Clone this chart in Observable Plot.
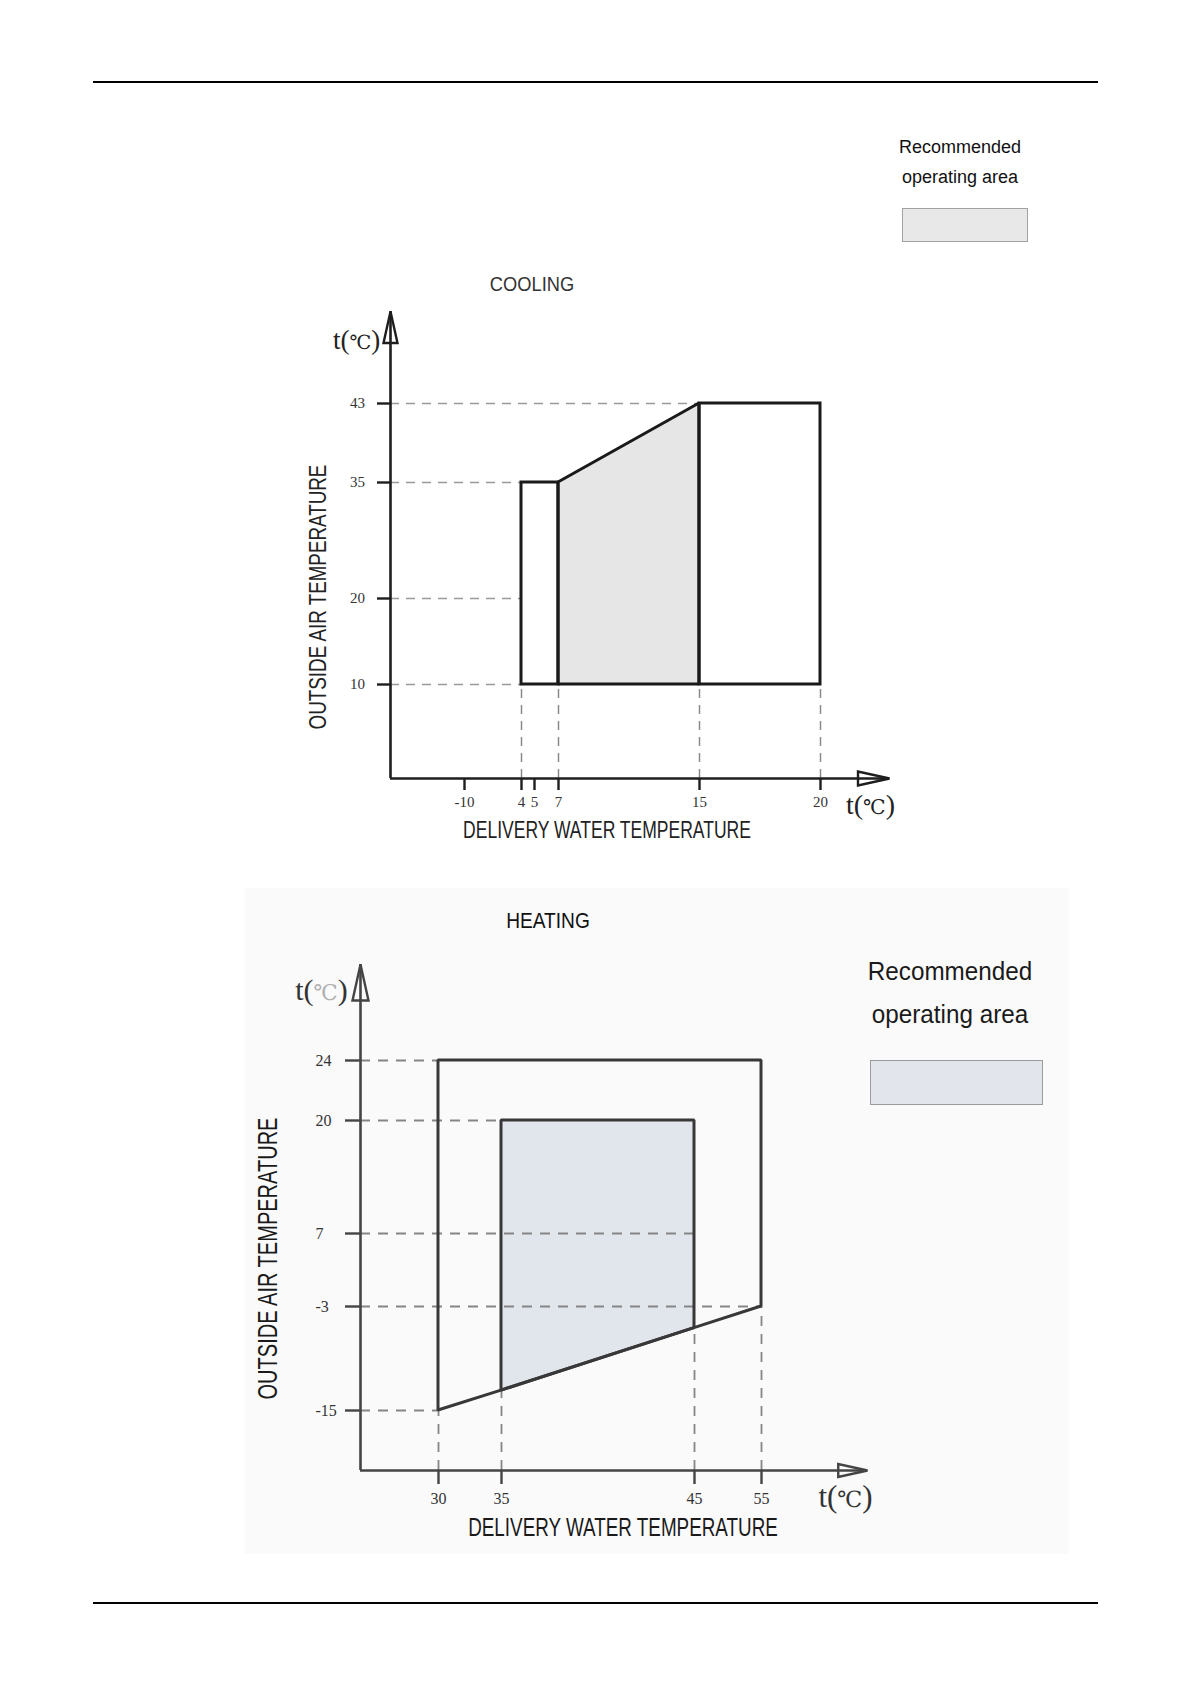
<!DOCTYPE html>
<html>
<head>
<meta charset="utf-8">
<script src="https://cdn.jsdelivr.net/npm/d3@7"></script>
<script src="https://cdn.jsdelivr.net/npm/@observablehq/plot@0.6"></script>
<style>
  body { margin: 0; background: #fff; }
  #page { position: relative; width: 1190px; height: 1684px; overflow: hidden; font-family: "Liberation Sans", Arial, sans-serif; }
  .abs { position: absolute; }
  .ctr { transform: translate(-50%, -50%); white-space: nowrap; }
</style>
</head>
<body>
<div id="page">
  <div class="abs" style="left:93px;top:81px;width:1005px;height:2px;background:#000"></div>
  <div class="abs" style="left:93px;top:1602px;width:1005px;height:2px;background:#000"></div>

  <div class="abs" style="left:245px;top:888px;width:824px;height:666px;background:#fafafa"></div>

  <!-- cooling legend -->
  <div class="abs ctr" style="left:960px;top:147px;font-size:18px;color:#111">Recommended</div>
  <div class="abs ctr" style="left:960px;top:177px;font-size:18px;color:#111">operating area</div>
  <div class="abs" style="left:902px;top:208px;width:124px;height:32px;background:#e8e8e8;border:1.5px solid #a2a2a2"></div>

  <!-- heating legend -->
  <div class="abs ctr" style="left:950px;top:971px;font-size:25px;color:#1a1a1a;transform:translate(-50%,-50%) scaleX(0.97)">Recommended</div>
  <div class="abs ctr" style="left:950px;top:1014px;font-size:25px;color:#1a1a1a;transform:translate(-50%,-50%) scaleX(0.97)">operating area</div>
  <div class="abs" style="left:870px;top:1060px;width:171px;height:43px;background:#e2e5eb;border:1.5px solid #9c9c9c"></div>

  <div class="abs" style="left:532px;top:284px;font-size:21px;color:#333;white-space:nowrap;transform:translate(-50%,-50%) scaleX(0.87)">COOLING</div>
  <div class="abs" style="left:548px;top:921px;font-size:22px;color:#111;white-space:nowrap;transform:translate(-50%,-50%) scaleX(0.87)">HEATING</div>

  <div id="cool" class="abs" style="left:250px;top:295px"></div>
  <div id="heat" class="abs" style="left:220px;top:940px"></div>
</div>
<script>
// ---------------- DATA ----------------
// Cooling
const coolXTicks = [-10, 4, 5, 7, 15, 20];
const coolYTicks = [10, 20, 35, 43];
const coolLimitZones = [
  {x1: 4, x2: 7, y1: 10, y2: 35},
  {x1: 15, x2: 20, y1: 10, y2: 43}
];
const coolRecommended = [
  {x: 7, low: 10, high: 35},
  {x: 15, low: 10, high: 43}
];
const coolHGuides = [{y: 43, to: 15}, {y: 35, to: 4}, {y: 20, to: 4}, {y: 10, to: 4}];
const coolVGuides = [{x: 4, from: 10}, {x: 7, from: 10}, {x: 15, from: 10}, {x: 20, from: 10}];

// Heating
const heatXTicks = [30, 35, 45, 55];
const heatYTicks = [-15, -3, 7, 20, 24];
const heatLimit = [
  {x: 30, low: -15, high: 24},
  {x: 35, low: -12.7, high: 24},
  {x: 45, low: -5.5, high: 24},
  {x: 55, low: -3, high: 24}
];
const heatRecommended = [
  {x: 35, low: -12.7, high: 20},
  {x: 45, low: -5.5, high: 20}
];
const heatHGuides = [{y: 24, to: 30}, {y: 20, to: 35}, {y: 7, to: 45}, {y: -3, to: 55}, {y: -15, to: 30}];
const heatVGuides = [{x: 30, from: -15}, {x: 35, from: -12.7}, {x: 45, from: -5.5}, {x: 55, from: -3}];

const yTitle = "OUTSIDE AIR TEMPERATURE";
const xTitle = "DELIVERY WATER TEMPERATURE";
const unitLabel = "t(\u2103)";

// -------------- schematic (piecewise) scale settings --------------
const arrowRight = {draw(ctx, size) { const r = Math.sqrt(size / Math.PI); ctx.moveTo(0, 0); ctx.lineTo(-4.5 * r, -r); ctx.lineTo(-4.5 * r, r); ctx.closePath(); }};
const arrowUp = {draw(ctx, size) { const r = Math.sqrt(size / Math.PI); ctx.moveTo(0, 0); ctx.lineTo(-r, 4.5 * r); ctx.lineTo(r, 4.5 * r); ctx.closePath(); }};

function chart(o) {
  const xDom = [o.xStart, ...o.xTicks, o.xEnd];
  const yDom = [o.yStart, ...o.yTicks, o.yEnd];
  const sans = "'Liberation Sans', Arial, sans-serif";
  const serif = "'Liberation Serif', 'DejaVu Serif', serif";
  const centered = {textAnchor: "middle", lineAnchor: "middle"};
  const limitMark = o.limitRects
    ? Plot.rect(o.limitRects, {x1: "x1", x2: "x2", y1: "y1", y2: "y2", fill: "none", stroke: o.ink, strokeWidth: 3, strokeLinejoin: "miter"})
    : Plot.areaY(o.limitArea, {x: "x", y1: "low", y2: "high", fill: "none", stroke: o.ink, strokeWidth: 3, strokeLinejoin: "miter"});
  return Plot.plot({
    width: o.width, height: o.height,
    marginLeft: o.xPx[0], marginRight: o.width - o.xPx[o.xPx.length - 1],
    marginTop: o.yPx[o.yPx.length - 1], marginBottom: o.height - o.yPx[0],
    x: {type: "linear", domain: xDom, range: o.xPx, label: null},
    y: {type: "linear", domain: yDom, range: o.yPx, label: null},
    style: {background: "transparent", fontFamily: serif, fontSize: o.tickFont + "px", color: o.tickInk, overflow: "visible"},
    marks: [
      Plot.areaY(o.recommended, {x: "x", y1: "low", y2: "high", fill: o.fill}),
      Plot.ruleY(o.hGuides, {y: "y", x1: () => o.xStart, x2: "to", stroke: o.hGuideColor, strokeWidth: o.guideWidth, strokeDasharray: o.dash}),
      Plot.ruleX(o.vGuides, {x: "x", y1: () => o.yStart, y2: "from", stroke: o.vGuideColor, strokeWidth: o.guideWidth, strokeDasharray: o.dash}),
      limitMark,
      Plot.areaY(o.recommended, {x: "x", y1: "low", y2: "high", fill: "none", stroke: o.ink, strokeWidth: 3, strokeLinejoin: "miter"}),
      Plot.ruleX([o.xStart], {stroke: o.axisInk, strokeWidth: 2.6}),
      Plot.ruleY([o.yStart], {stroke: o.axisInk, strokeWidth: 2.6}),
      Plot.dot([{x: o.xEnd, y: o.yStart}], {x: "x", y: "y", symbol: arrowRight, r: o.arrowR, fill: "none", stroke: o.axisInk, strokeWidth: 2.4, strokeLinejoin: "miter"}),
      Plot.dot([{x: o.xStart, y: o.yEnd}], {x: "x", y: "y", symbol: arrowUp, r: o.arrowRY, fill: "none", stroke: o.axisInk, strokeWidth: 2.4, strokeLinejoin: "miter"}),
      Plot.axisX({ticks: o.xTicks, tickSize: o.xTickSize, tickPadding: o.xTickPad, tickFormat: (d) => String(d), label: null, strokeWidth: 2.4, stroke: o.axisInk, fill: o.tickInk}),
      Plot.axisY({ticks: o.yTicks, tickSize: o.yTickSize, tickFormat: () => "", label: null, strokeWidth: 2.4, stroke: o.axisInk}),
      Plot.text(o.yTicks, {y: (d) => d, text: (d) => String(d), frameAnchor: "left", dx: o.yLabDx, textAnchor: o.yLabAnchor, lineAnchor: "middle", fill: o.tickInk, fontFamily: serif, fontSize: o.tickFont}),
      Plot.text([unitLabel], {text: (d) => d, frameAnchor: "top-left", dx: o.tY[0], dy: o.tY[1], ...centered, fontFamily: serif, fontSize: o.unitFont, fill: o.unitInk}),
      Plot.text([unitLabel], {text: (d) => d, frameAnchor: "bottom-right", dx: o.tX[0], dy: o.tX[1], ...centered, fontFamily: serif, fontSize: o.unitFont + 1, fill: o.unitInk}),
      Plot.text([yTitle], {text: (d) => d, frameAnchor: "left", dx: o.yT[0], dy: o.yT[1], rotate: -90, ...centered, fontFamily: sans, fontSize: o.yTitleFont, fill: o.titleInk}),
      Plot.text([xTitle], {text: (d) => d, frameAnchor: "bottom", dx: o.xT[0], dy: o.xT[1], rotate: 0, ...centered, fontFamily: sans, fontSize: o.xTitleFont, fill: o.titleInk})
    ]
  });
}

const cool = chart({
  width: 680, height: 560,
  xStart: -30, xEnd: 30, xTicks: coolXTicks, xPx: [140, 214, 271, 284, 308, 449, 570, 639],
  yStart: 0, yEnd: 55, yTicks: coolYTicks, yPx: [483, 389, 303, 187, 108, 16],
  recommended: coolRecommended, limitRects: coolLimitZones,
  hGuides: coolHGuides, vGuides: coolVGuides,
  fill: "#e6e6e6", ink: "#1a1a1a", axisInk: "#1e1e1e", tickInk: "#333", unitInk: "#222", titleInk: "#222",
  hGuideColor: "#9a9a9a", vGuideColor: "#8a8a8a", guideWidth: 1.5, dash: "9,7",
  arrowR: 7, arrowRY: 7,
  xTickSize: 12, xTickPad: 6, yTickSize: 13,
  tickFont: 15, yLabDx: -33, yLabAnchor: "middle",
  unitFont: 27, tY: [-34, 29], tX: [-19, 27],
  yTitleFont: 23, yT: [-72, 52], xTitleFont: 23, xT: [-33, 52]
});
document.getElementById("cool").appendChild(cool);

const heat = chart({
  width: 700, height: 620,
  xStart: 20, xEnd: 65, xTicks: heatXTicks, xPx: [140, 218, 281, 474, 541, 647],
  yStart: -25, yEnd: 32, yTicks: heatYTicks, yPx: [530, 470, 366, 293, 180, 120, 24],
  recommended: heatRecommended, limitArea: heatLimit,
  hGuides: heatHGuides, vGuides: heatVGuides,
  fill: "#e1e5ec", ink: "#383838", axisInk: "#444", tickInk: "#333", unitInk: "#333", titleInk: "#1a1a1a",
  hGuideColor: "#858585", vGuideColor: "#858585", guideWidth: 1.8, dash: "10,8",
  arrowR: 6.5, arrowRY: 8,
  xTickSize: 14, xTickPad: 8, yTickSize: 15,
  tickFont: 16, yLabDx: -45, yLabAnchor: "start",
  unitFont: 30, tY: [-39, 26], tX: [-22, 27],
  yTitleFont: 27, yT: [-92, 41], xTitleFont: 25, xT: [9, 57]
});
document.getElementById("heat").appendChild(heat);

// condense the axis titles (narrow lettering of the original) with a horizontal scale
function condense(svg, lengths) {
  svg.querySelectorAll("text").forEach((t) => {
    const L = lengths[t.textContent];
    if (!L) return;
    const natural = t.getComputedTextLength();
    const k = L / natural;
    if (!isFinite(k) || k <= 0) return;
    const tr = t.getAttribute("transform") || "";
    t.setAttribute("transform", (tr + ` scale(${k.toFixed(4)},1)`).trim());
  });
}
condense(cool, {[yTitle]: 265, [xTitle]: 288});
condense(heat, {[yTitle]: 282, [xTitle]: 310});

// narrow degree sign inside the unit labels
function unitGlyph(svg, faded) {
  const ns = "http://www.w3.org/2000/svg";
  let first = true;
  svg.querySelectorAll("text").forEach((t) => {
    if (t.textContent !== unitLabel) return;
    t.textContent = "";
    t.appendChild(document.createTextNode("t("));
    const s = document.createElementNS(ns, "tspan");
    s.setAttribute("font-size", "0.72em");
    s.setAttribute("font-family", "'DejaVu Serif', serif");
    if (faded && first) s.setAttribute("fill", "#b0b0b0");
    s.textContent = "\u2103";
    t.appendChild(s);
    t.appendChild(document.createTextNode(")"));
    first = false;
  });
}
unitGlyph(cool, false);
unitGlyph(heat, true);
</script>
</body>
</html>
